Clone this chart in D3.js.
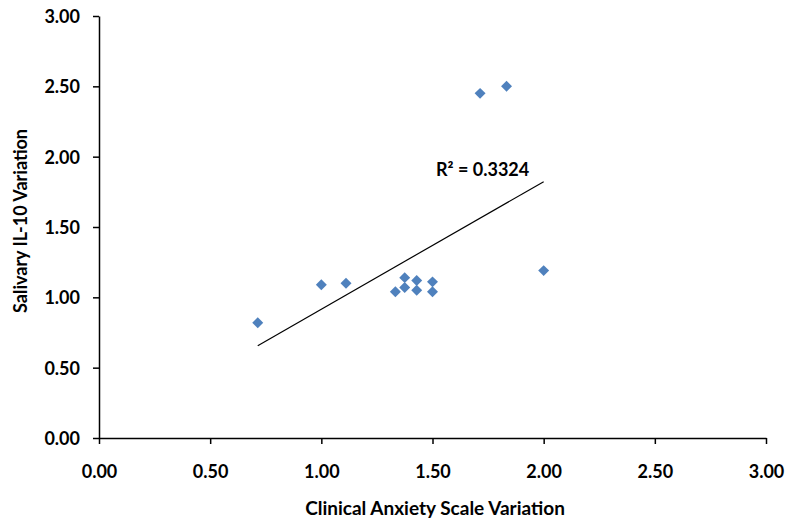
<!DOCTYPE html>
<html>
<head>
<meta charset="utf-8">
<script src="https://cdn.jsdelivr.net/npm/d3@7"></script>
<style>
html,body{margin:0;padding:0;background:#fff;}
text{font-family:"Lato","Open Sans",sans-serif;font-weight:bold;fill:#000;}
</style>
</head>
<body>
<svg id="chart" width="787" height="520"></svg>
<script>
const xValues = [0.714, 1.0, 1.111, 1.333, 1.375, 1.375, 1.429, 1.429, 1.5, 1.5, 1.714, 1.833, 2.0];
const yValues = [0.82, 1.09, 1.10, 1.04, 1.07, 1.14, 1.12, 1.05, 1.11, 1.04, 2.45, 2.50, 1.19];
const tickValues = [0, 0.5, 1.0, 1.5, 2.0, 2.5, 3.0];
const xTitle = "Clinical Anxiety Scale Variation";
const yTitle = "Salivary IL-10 Variation";
const r2Label = "R² = 0.3324";

const svg = d3.select("#chart");
const L = 99, R = 766, T = 16, B = 438;
const x = d3.scaleLinear().domain([0, 3]).range([L, R]);
const y = d3.scaleLinear().domain([0, 3]).range([B, T]);

const fmt = d3.format(".2f");

// axes
const gx = svg.append("g").attr("transform", `translate(0,${B})`)
  .call(d3.axisBottom(x).tickValues(tickValues).tickFormat(fmt).tickSize(6).tickSizeOuter(0));
const gy = svg.append("g").attr("transform", `translate(${L},0)`)
  .call(d3.axisLeft(y).tickValues(tickValues).tickFormat(fmt).tickSize(6).tickSizeOuter(0).tickPadding(13));
[gx, gy].forEach(g => {
  g.select(".domain").attr("stroke", "#000").attr("stroke-width", 1.5);
  g.selectAll(".tick line").attr("stroke", "#000").attr("stroke-width", 1.5);
  g.selectAll(".tick text").attr("font-size", 18).attr("font-family", "Lato, 'Open Sans', sans-serif").attr("font-weight", "bold").attr("fill", "#000");
});
gx.selectAll(".tick text").attr("y", 40).attr("dy", 0);
gy.selectAll(".tick text").attr("dy", "0.36em");

// trendline (least squares)
const data = xValues.map((v, i) => ({x: v, y: yValues[i]}));
const mx = d3.mean(xValues), my = d3.mean(yValues);
const sxy = d3.sum(data, d => (d.x - mx) * (d.y - my));
const sxx = d3.sum(data, d => (d.x - mx) ** 2);
const slope = sxy / sxx, icpt = my - slope * mx;
const x0 = d3.min(xValues), x1 = d3.max(xValues);
svg.append("line")
  .attr("x1", x(x0)).attr("y1", y(icpt + slope * x0))
  .attr("x2", x(x1)).attr("y2", y(icpt + slope * x1))
  .attr("stroke", "#000").attr("stroke-width", 1.2);

// points
svg.append("g").selectAll("path").data(data).join("path")
  .attr("d", d3.symbol(d3.symbolSquare, 60))
  .attr("transform", d => `translate(${x(d.x)},${y(d.y)}) rotate(45)`)
  .attr("fill", "#4F81BD");

// R2 label
svg.append("text").attr("x", 436).attr("y", 176).attr("font-size", 18).text(r2Label);

// titles
svg.append("text").attr("x", 435).attr("y", 515).attr("text-anchor", "middle").attr("font-size", 19).text(xTitle);
svg.append("text").attr("transform", `translate(27,221) rotate(-90)`).attr("text-anchor", "middle").attr("font-size", 18).text(yTitle);
</script>
</body>
</html>
